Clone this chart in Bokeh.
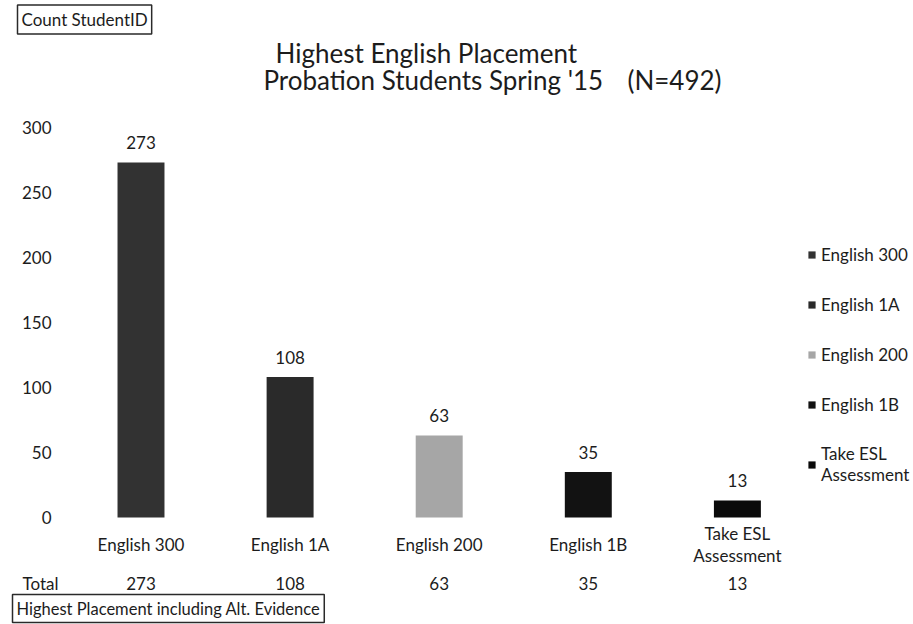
from bokeh.plotting import figure
from bokeh.models import Range1d, Label, Legend, LegendItem, ColumnDataSource
from bokeh.core.properties import value
from bokeh.embed import file_html
from bokeh.resources import INLINE

# ---- data ----
categories = ["English 300", "English 1A", "English 200", "English 1B", "Take ESL\nAssessment"]
counts = [273, 108, 63, 35, 13]
totals = [273, 108, 63, 35, 13]
y_ticks = [0, 50, 100, 150, 200, 250, 300]
colors = ["#323232", "#2a2a2a", "#a6a6a6", "#121212", "#0a0a0a"]

FONT = "Lato"
TXT = "#1c1c1c"
FS = "17px"

W, H = 913, 624
# canvas geometry (pixels) used to derive ranges
x0_px, step_px = 140.5, 149.1      # centre of first category, px per category
y0_px, ppu = 517.0, 1.3            # baseline of value 0, px per unit

xpos = list(range(len(categories)))
src = ColumnDataSource(dict(x=xpos, cat=categories, n=counts, color=colors,
                            label=[str(v) for v in counts],
                            total=[str(v) for v in totals]))

x_start = -x0_px / step_px
p = figure(width=W, height=H,
           x_range=Range1d(x_start, (W - x0_px) / step_px),
           y_range=Range1d(-(H - y0_px) / ppu, y0_px / ppu),
           x_axis_location=None, y_axis_location=None,
           output_backend="svg", toolbar_location=None,
           min_border_left=0, min_border_right=0, min_border_top=0, min_border_bottom=0)
p.outline_line_color = None
p.grid.grid_line_color = None
p.background_fill_color = "white"
p.border_fill_color = "white"

r = p.vbar(x="x", top="n", bottom=0, width=0.315, fill_color="color", line_color=None, source=src)

common = dict(text_font=value(FONT), text_font_size=FS, text_color=TXT)

# value labels above bars
p.text(x="x", y="n", text="label", source=src, text_align="center",
       text_baseline="middle", y_offset=-20, **common)

# y tick labels
p.text(x=x_start, y=y_ticks, text=[str(t) for t in y_ticks], text_align="right",
       text_baseline="middle", x_offset=51, **common)

# category labels
p.text(x="x", y=0, text="cat", source=src, text_align="center", text_baseline="middle",
       y_offset=27, text_line_height=1.05, **common)

# totals row
p.text(x="x", y=0, text="total", source=src, text_align="center",
       text_baseline="middle", y_offset=66, **common)


def lab(text, x, y, size=FS, **kw):
    l = Label(x=x, y=H - y, x_units="screen", y_units="screen", text=text,
              text_font=FONT, text_font_size=size, text_color=TXT,
              text_baseline="middle", **kw)
    p.add_layout(l)
    return l


lab("Total", 22, 583)
lab("Highest English Placement", 275, 52, size="26px")
lab("Probation Students Spring '15", 263, 79, size="26px")
lab("(N=492)", 721, 79, size="26px", text_align="right")
lab("Count StudentID", 17, 19, size="17px",
    border_line_color="#2a2a2a", border_line_width=1.5, padding=4)
lab("Highest Placement including Alt. Evidence", 12, 608, size="16.5px",
    border_line_color="#2a2a2a", border_line_width=1.5, padding=4)

items = [LegendItem(label=categories[i], renderers=[r], index=i) for i in range(len(categories))]
leg = Legend(items=items, location=(807, 139), orientation="vertical",
             border_line_color=None, background_fill_alpha=0, padding=0, margin=0,
             glyph_width=9, glyph_height=9, label_height=22, spacing=28,
             label_text_font=FONT, label_text_font_size=FS, label_text_color=TXT,
             label_text_line_height=1.3, label_standoff=5)
p.add_layout(leg)

open("out.html", "w").write(file_html(p, INLINE))
